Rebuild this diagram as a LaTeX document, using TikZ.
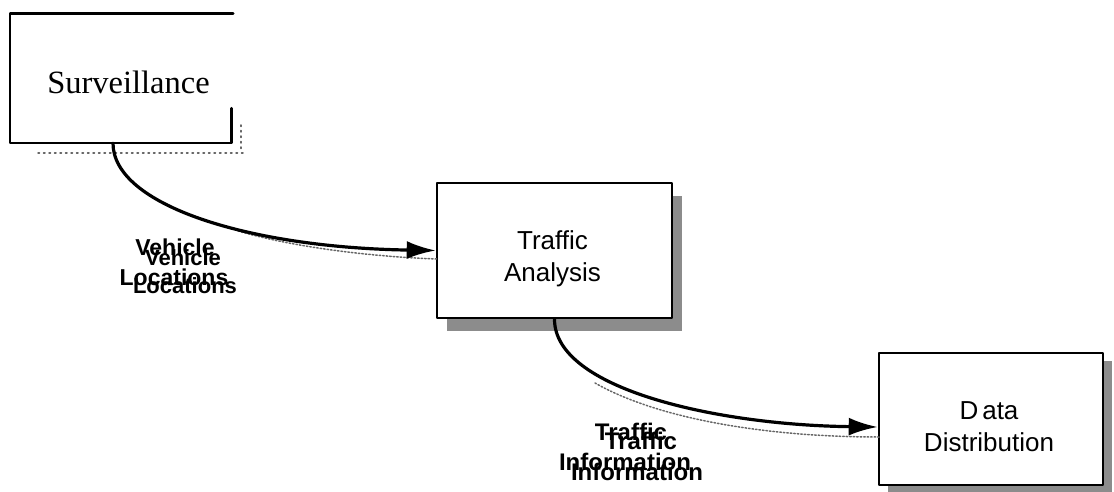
\documentclass[tikz,border=0pt]{standalone}
\usepackage{fontspec}
\setmainfont{Liberation Serif}
\setsansfont{Liberation Sans}
\usetikzlibrary{arrows.meta,shadows}
\tikzset
{
	my box/.style={draw,line width=2.6pt,fill=white,inner sep=0pt},
	my text/.style={font=\sffamily\fontsize{26}{32}\selectfont,align=center},
	my label/.style={font=\sffamily\bfseries\fontsize{#1}{30}\selectfont,anchor=base},
	my flow/.style={line width=3.2pt,-{Latex[length=29pt,width=18pt]}},
	my trace/.style={black!60,line width=1.5pt,dotted}
}

\begin{document}
\begin{tikzpicture}[x=1pt,y=-1pt,line cap=round,line join=round]
		\useasboundingbox (0,0) rectangle (1114,492);
		% surveillance (open frame)
		\node[inner sep=0pt,minimum width=221pt,minimum height=129pt] (surv) at (120.5,78.5) {};
		\draw[my trace,loosely dotted] (38,153) -- (245,153);
		\draw[my trace,loosely dotted] (241,125) -- (241,150);
		\draw[line width=2.6pt] ([xshift=2pt]surv.north east) -- (surv.north west) -- (surv.south west) -- (surv.south east) -- ++(0,-35);
		\node[font=\fontsize{32.5}{36}\selectfont] (surv text) at (128.5,82) {Surveillance};
		% boxes with shadow
		\node[my box,minimum width=235pt,minimum height=135pt,
			drop shadow={shadow xshift=10pt,shadow yshift=-13pt,fill=black!45,opacity=1}] (ta) at (554.5,250.5) {};
		\node[my box,minimum width=224pt,minimum height=132pt,
			drop shadow={shadow xshift=9pt,shadow yshift=-8pt,fill=black!45,opacity=1}] (dd) at (991,419) {};
		\node[my text] (ta text) at (552.5,259) {Traffic\\Analysis};
		\node[my text] (dd text) at (989,427) {D\kern4pt ata\\Distribution};
		% flows
		\draw[my trace] (238,231) .. controls (300,249) and (380,257) .. (437,259);
		\draw[my trace] (595,383) .. controls (660,420) and (770,437) .. (879,437);
		\draw[my flow] ([xshift=-7.5pt]surv.south) .. controls +(0,62) and +(-187,-3) .. (ta.west);
		\draw[my flow] (ta.south) .. controls +(0,70) and +(-160,-2) .. ([yshift=-8pt]dd.west);
		% labels (printed twice)
		\node[my label=23] (veh a) at (175,255) {Vehicle};
		\node[my label=23] (loc a) at (174,285) {Locations};
		\node[my label=22] (veh b) at (183,265) {Vehicle};
		\node[my label=22] (loc b) at (185,293) {Locations};
		\node[my label=24] (trf a) at (631,440) {Traffic};
		\node[my label=24] (inf a) at (625,470) {Information};
		\node[my label=24] (trf b) at (641,449) {Traffic};
		\node[my label=24] (inf b) at (637,480) {Information};
\end{tikzpicture}
\end{document}
